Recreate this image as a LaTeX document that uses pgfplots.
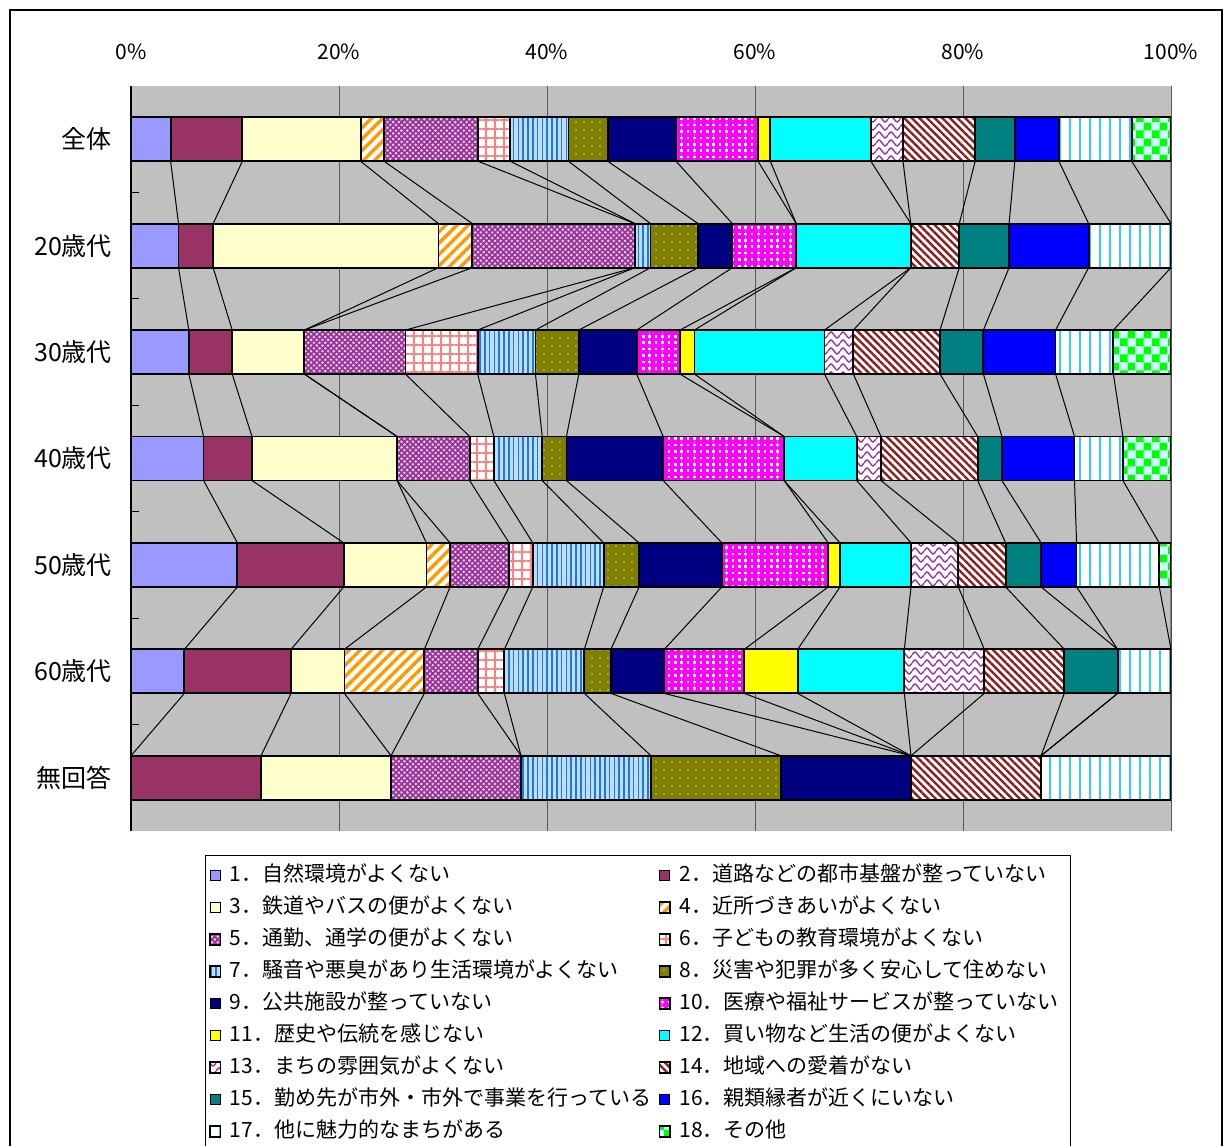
\documentclass[border=0pt]{standalone}
\usepackage{pgfplots}
\pgfplotsset{compat=1.18}
\usepackage{pgfplotstable}
\usepackage{fontspec}
\setmainfont{Noto Sans CJK JP}
\usetikzlibrary{patterns,patterns.meta}

\definecolor{bgc}{HTML}{C0C0C0}
\definecolor{c1}{HTML}{9999FF}
\definecolor{c2}{HTML}{993366}
\definecolor{c3}{HTML}{FFFFCC}
\definecolor{c4}{HTML}{FF9900}
\definecolor{c5}{HTML}{993399}
\definecolor{c5b}{HTML}{EED8F0}
\definecolor{c6}{HTML}{FF8080}
\definecolor{c7}{HTML}{2277DD}
\definecolor{c7b}{HTML}{BBDDFF}
\definecolor{c8}{HTML}{808000}
\definecolor{c8d}{HTML}{C8C8A0}
\definecolor{c9}{HTML}{000080}
\definecolor{c10}{HTML}{FF00FF}
\definecolor{c11}{HTML}{FFFF00}
\definecolor{c12}{HTML}{00FFFF}
\definecolor{c13}{HTML}{993399}
\definecolor{c14}{HTML}{8B1E1E}
\definecolor{c15}{HTML}{008080}
\definecolor{c16}{HTML}{0000FF}
\definecolor{c17}{HTML}{33CCFF}
\definecolor{c18}{HTML}{00FF00}
\definecolor{c18b}{HTML}{CCFFFF}

\pgfdeclarepatternformonly{waves}{\pgfpoint{0bp}{-0.5bp}}{\pgfpoint{6bp}{3.5bp}}{\pgfpoint{6bp}{4bp}}{%
  \pgfsetlinewidth{0.7bp}
  \pgfpathmoveto{\pgfpoint{0bp}{1.5bp}}
  \pgfpathcurveto{\pgfpoint{1.5bp}{3.5bp}}{\pgfpoint{1.5bp}{3.5bp}}{\pgfpoint{3bp}{1.5bp}}
  \pgfpathcurveto{\pgfpoint{4.5bp}{-0.5bp}}{\pgfpoint{4.5bp}{-0.5bp}}{\pgfpoint{6bp}{1.5bp}}
  \pgfusepath{stroke}}
\pgfdeclarepatternformonly{checker}{\pgfpointorigin}{\pgfpoint{8bp}{8bp}}{\pgfpoint{8bp}{8bp}}{%
  \pgfpathrectangle{\pgfpointorigin}{\pgfpoint{4bp}{4bp}}
  \pgfpathrectangle{\pgfpoint{4bp}{4bp}}{\pgfpoint{4bp}{4bp}}
  \pgfusepath{fill}}

\tikzset{
  s1/.style={fill=c1},
  s2/.style={fill=c2},
  s3/.style={fill=c3},
  s4/.style={preaction={fill=white}, pattern={Lines[angle=45,distance=4bp,line width=1.7bp]}, pattern color=c4},
  s5/.style={preaction={fill=c5b}, pattern={Hatch[angle=45,distance=2bp,line width=0.9bp]}, pattern color=c5},
  s6/.style={preaction={fill=white}, pattern={Hatch[angle=0,distance=4.5bp,line width=1bp]}, pattern color=c6},
  s7/.style={preaction={fill=c7b}, pattern={Lines[angle=90,distance=2.4bp,line width=0.8bp]}, pattern color=c7},
  s8/.style={preaction={fill=c8}, pattern={Dots[radius=0.45bp,distance=4bp]}, pattern color=c8d},
  s9/.style={fill=c9},
  s10/.style={preaction={fill=white}, pattern={Hatch[angle=0,distance=3.2bp,line width=1.9bp]}, pattern color=c10},
  s11/.style={fill=c11},
  s12/.style={fill=c12},
  s13/.style={preaction={fill=white}, pattern=waves, pattern color=c13},
  s14/.style={preaction={fill=white}, pattern={Lines[angle=-45,distance=2.7bp,line width=1.2bp]}, pattern color=c14},
  s15/.style={fill=c15},
  s16/.style={fill=c16},
  s17/.style={preaction={fill=white}, pattern={Lines[angle=90,distance=5bp,line width=1bp]}, pattern color=c17},
  s18/.style={preaction={fill=c18b}, pattern=checker, pattern color=c18},
}

% two rows per category: top edge (-1) and bottom edge (+1) of each bar
\pgfplotstableread{
cat edge s1 s2 s3 s4 s5 s6 s7 s8 s9 s10 s11 s12 s13 s14 s15 s16 s17 s18
0 -1 3.81 6.90 11.37 2.26 9.03 3.09 5.60 3.78 6.57 7.88 1.18 9.67 3.09 6.94 3.81 4.24 7.00 3.78
0 1 3.81 6.90 11.37 2.26 9.03 3.09 5.60 3.78 6.57 7.88 1.18 9.67 3.09 6.94 3.81 4.24 7.00 3.78
1 -1 4.57 3.33 21.66 3.26 15.63 0 1.51 4.57 3.29 6.15 0 11.01 0 4.66 4.79 7.65 7.92 0
1 1 4.57 3.33 21.66 3.26 15.63 0 1.51 4.57 3.29 6.15 0 11.01 0 4.66 4.79 7.65 7.92 0
2 -1 5.56 4.17 6.94 0 9.72 6.94 5.56 4.17 5.56 4.17 1.39 12.50 2.78 8.33 4.17 6.94 5.56 5.56
2 1 5.56 4.17 6.94 0 9.72 6.94 5.56 4.17 5.56 4.17 1.39 12.50 2.78 8.33 4.17 6.94 5.56 5.56
3 -1 6.98 4.65 13.95 0 6.98 2.33 4.65 2.33 9.30 11.63 0 6.98 2.33 9.30 2.33 6.98 4.65 4.65
3 1 6.98 4.65 13.95 0 6.98 2.33 4.65 2.33 9.30 11.63 0 6.98 2.33 9.30 2.33 6.98 4.65 4.65
4 -1 10.23 10.23 7.95 2.27 5.68 2.27 6.82 3.41 7.95 10.23 1.14 6.82 4.55 4.55 3.41 3.41 7.95 1.14
4 1 10.23 10.23 7.95 2.27 5.68 2.27 6.82 3.41 7.95 10.23 1.14 6.82 4.55 4.55 3.41 3.41 7.95 1.14
5 -1 5.13 10.26 5.13 7.69 5.13 2.56 7.69 2.56 5.13 7.69 5.13 10.26 7.69 7.69 5.13 0 5.13 0
5 1 5.13 10.26 5.13 7.69 5.13 2.56 7.69 2.56 5.13 7.69 5.13 10.26 7.69 7.69 5.13 0 5.13 0
6 -1 0 12.5 12.5 0 12.5 0 12.5 12.5 12.5 0 0 0 0 12.5 0 0 12.5 0
6 1 0 12.5 12.5 0 12.5 0 12.5 12.5 12.5 0 0 0 0 12.5 0 0 12.5 0
}\data

\newcommand{\lgL}[1]{\makebox[214bp][l]{\hspace{2bp}#1}}
\newcommand{\lgR}[1]{\makebox[193bp][l]{\hspace{2bp}#1}}

\begin{document}
\begin{tikzpicture}
\useasboundingbox (0,0) rectangle (613bp,573bp);
\draw[line width=0.6bp] (5bp,-5bp) rectangle (611bp,568bp);

% background, grid, labels and series lines
\begin{axis}[
  at={(65.5bp,157.5bp)}, anchor=south west,
  scale only axis, width=520bp, height=372.5bp,
  xmin=0, xmax=100, ymin=-0.5, ymax=6.5, y dir=reverse,
  axis background/.style={fill=bgc},
  axis x line*=top, axis y line*=left,
  x axis line style={draw=none},
  y axis line style={black, line width=0.6bp},
  xtick={0,20,...,100},
  xticklabels={0\%,20\%,40\%,60\%,80\%,100\%},
  xmajorgrids, grid style={black!65, line width=0.5bp},
  ytick={0,...,6},
  yticklabels={全体,20歳代,30歳代,40歳代,50歳代,60歳代,無回答},
  minor ytick={0.5,1.5,...,5.5},
  major tick length=0pt, minor tick length=4bp, tick align=inside,
  minor tick style={black, line width=0.5bp},
  xticklabel style={font=\fontsize{10.5bp}{12bp}\selectfont, yshift=9.5bp},
  yticklabel style={font=\fontsize{12.5bp}{14bp}\selectfont, xshift=-6bp},
  stack plots=x,
]
\foreach \k in {1,...,18} {
  \addplot[black, line width=0.5bp, mark=none] table[x=s\k, y expr=\thisrow{cat}+0.207*\thisrow{edge}] {\data};
}
\end{axis}

% the stacked bars
\begin{axis}[
  at={(65.5bp,157.5bp)}, anchor=south west,
  scale only axis, width=520bp, height=372.5bp,
  xmin=0, xmax=100, ymin=-0.5, ymax=6.5, y dir=reverse,
  hide axis,
  xbar stacked, bar width=0.414,
  legend image code/.code={\draw[#1, line width=0.5bp] (0bp,-2.6bp) rectangle (5.2bp,2.6bp);},
  legend columns=2,
  legend cell align=left,
  legend style={at={(0.0712,-0.0322)}, anchor=north west,
    draw=black, line width=0.5bp, fill=white,
    font=\fontsize{10.5bp}{12bp}\selectfont,
    nodes={text height=8bp, text depth=2.5bp, inner ysep=2.75bp, inner xsep=2.5bp},
    inner sep=2bp},
]
\addplot[s1, draw=black, line width=0.9bp] table[x=s1, y=cat] {\data};
\addlegendentry{\lgL{1．自然環境がよくない}}
\addplot[s2, draw=black, line width=0.9bp] table[x=s2, y=cat] {\data};
\addlegendentry{\lgR{2．道路などの都市基盤が整っていない}}
\addplot[s3, draw=black, line width=0.9bp] table[x=s3, y=cat] {\data};
\addlegendentry{\lgL{3．鉄道やバスの便がよくない}}
\addplot[s4, draw=black, line width=0.9bp] table[x=s4, y=cat] {\data};
\addlegendentry{\lgR{4．近所づきあいがよくない}}
\addplot[s5, draw=black, line width=0.9bp] table[x=s5, y=cat] {\data};
\addlegendentry{\lgL{5．通勤、通学の便がよくない}}
\addplot[s6, draw=black, line width=0.9bp] table[x=s6, y=cat] {\data};
\addlegendentry{\lgR{6．子どもの教育環境がよくない}}
\addplot[s7, draw=black, line width=0.9bp] table[x=s7, y=cat] {\data};
\addlegendentry{\lgL{7．騒音や悪臭があり生活環境がよくない}}
\addplot[s8, draw=black, line width=0.9bp] table[x=s8, y=cat] {\data};
\addlegendentry{\lgR{8．災害や犯罪が多く安心して住めない}}
\addplot[s9, draw=black, line width=0.9bp] table[x=s9, y=cat] {\data};
\addlegendentry{\lgL{9．公共施設が整っていない}}
\addplot[s10, draw=black, line width=0.9bp] table[x=s10, y=cat] {\data};
\addlegendentry{\lgR{10．医療や福祉サービスが整っていない}}
\addplot[s11, draw=black, line width=0.9bp] table[x=s11, y=cat] {\data};
\addlegendentry{\lgL{11．歴史や伝統を感じない}}
\addplot[s12, draw=black, line width=0.9bp] table[x=s12, y=cat] {\data};
\addlegendentry{\lgR{12．買い物など生活の便がよくない}}
\addplot[s13, draw=black, line width=0.9bp] table[x=s13, y=cat] {\data};
\addlegendentry{\lgL{13．まちの雰囲気がよくない}}
\addplot[s14, draw=black, line width=0.9bp] table[x=s14, y=cat] {\data};
\addlegendentry{\lgR{14．地域への愛着がない}}
\addplot[s15, draw=black, line width=0.9bp] table[x=s15, y=cat] {\data};
\addlegendentry{\lgL{15．勤め先が市外・市外で事業を行っている}}
\addplot[s16, draw=black, line width=0.9bp] table[x=s16, y=cat] {\data};
\addlegendentry{\lgR{16．親類縁者が近くにいない}}
\addplot[s17, draw=black, line width=0.9bp] table[x=s17, y=cat] {\data};
\addlegendentry{\lgL{17．他に魅力的なまちがある}}
\addplot[s18, draw=black, line width=0.9bp] table[x=s18, y=cat] {\data};
\addlegendentry{\lgR{18．その他}}
\end{axis}
\end{tikzpicture}
\end{document}
